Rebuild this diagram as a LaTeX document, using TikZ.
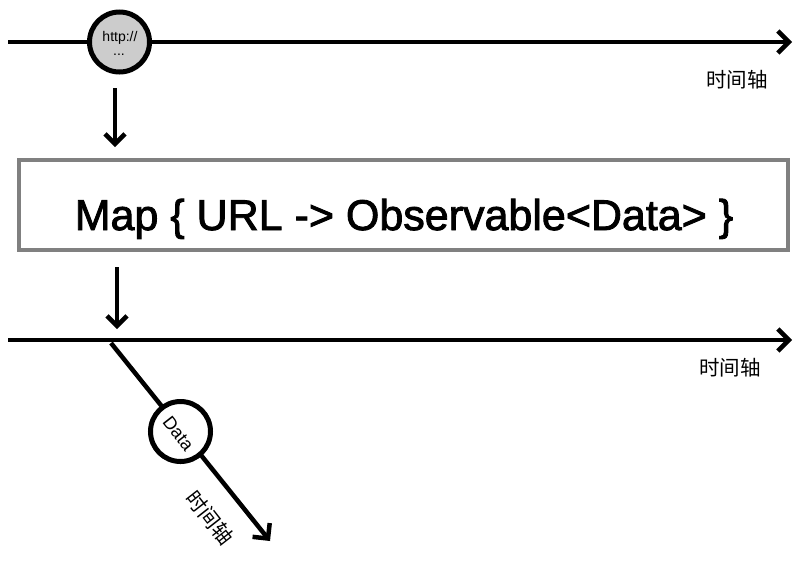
\documentclass[tikz,border=0pt]{standalone}
\usepackage{fontspec}
\setmainfont{Liberation Sans}
\newfontfamily\medsans[FakeBold=2]{Liberation Sans}
\newfontfamily\cjk{Noto Sans CJK SC}
\usetikzlibrary{arrows.meta}
\begin{document}
\begin{tikzpicture}[x=1pt,y=-1pt,
  axis/.style={line width=4.5pt,-{Straight Barb[length=11pt,width=22pt,line width=4.5pt]}},
  down/.style={line width=4.5pt,-{Straight Barb[length=10pt,width=20pt,line width=4.5pt]}},
  evt/.style={circle,draw=black,line width=5pt,minimum size=60pt,inner sep=0pt},
  axlabel/.style={font=\cjk\fontsize{20.5}{22}\selectfont,inner sep=0pt}]
\useasboundingbox (0,0) rectangle (800,563);
% top timeline
\coordinate (t1s) at (8,42);
\coordinate (t1e) at (792,42);
\draw[axis] (t1s) -- (t1e);
\node[evt,fill=black!20] (http) at (119.5,42) {};
\node[font=\fontsize{14}{16}\selectfont,inner sep=0pt] (httptxt) at (120,38) {http://};
\node[font=\fontsize{14}{16}\selectfont,inner sep=0pt] (dots) at (119,55) {...};
\node[axlabel] (lab1) at (737,80) {时间轴};
% arrow into map
\coordinate (a1s) at (115,88);
\coordinate (a1e) at (115,147);
\draw[down] (a1s) -- (a1e);
% map box
\node[draw=black!50,line width=3.5pt,minimum width=769pt,minimum height=90pt,inner sep=0pt] (map) at (403.5,205) {};
\node[font=\medsans\fontsize{43}{45}\selectfont,inner sep=0pt,anchor=base] (maptext) at (404,230) {Map \{ URL -> Observable<Data> \}};
% arrow out of map
\coordinate (a2s) at (117,267);
\coordinate (a2e) at (117,329);
\draw[down] (a2s) -- (a2e);
% second timeline
\coordinate (t2s) at (8,340);
\coordinate (t2e) at (792,340);
\draw[axis] (t2s) -- (t2e);
\node[axlabel] (lab2) at (730,368) {时间轴};
% diagonal timeline
\coordinate (ds) at (111,343);
\coordinate (de) at (270,541);
\draw[axis] (ds) -- (de);
\node[evt,fill=white] (data) at (180.5,431.5) {};
\node[font=\fontsize{18}{20}\selectfont,inner sep=0pt,rotate=-52] (datatxt) at (178.5,433.5) {Data};
\node[axlabel,rotate=-52] (lab3) at (210,518) {时间轴};
\end{tikzpicture}
\end{document}
